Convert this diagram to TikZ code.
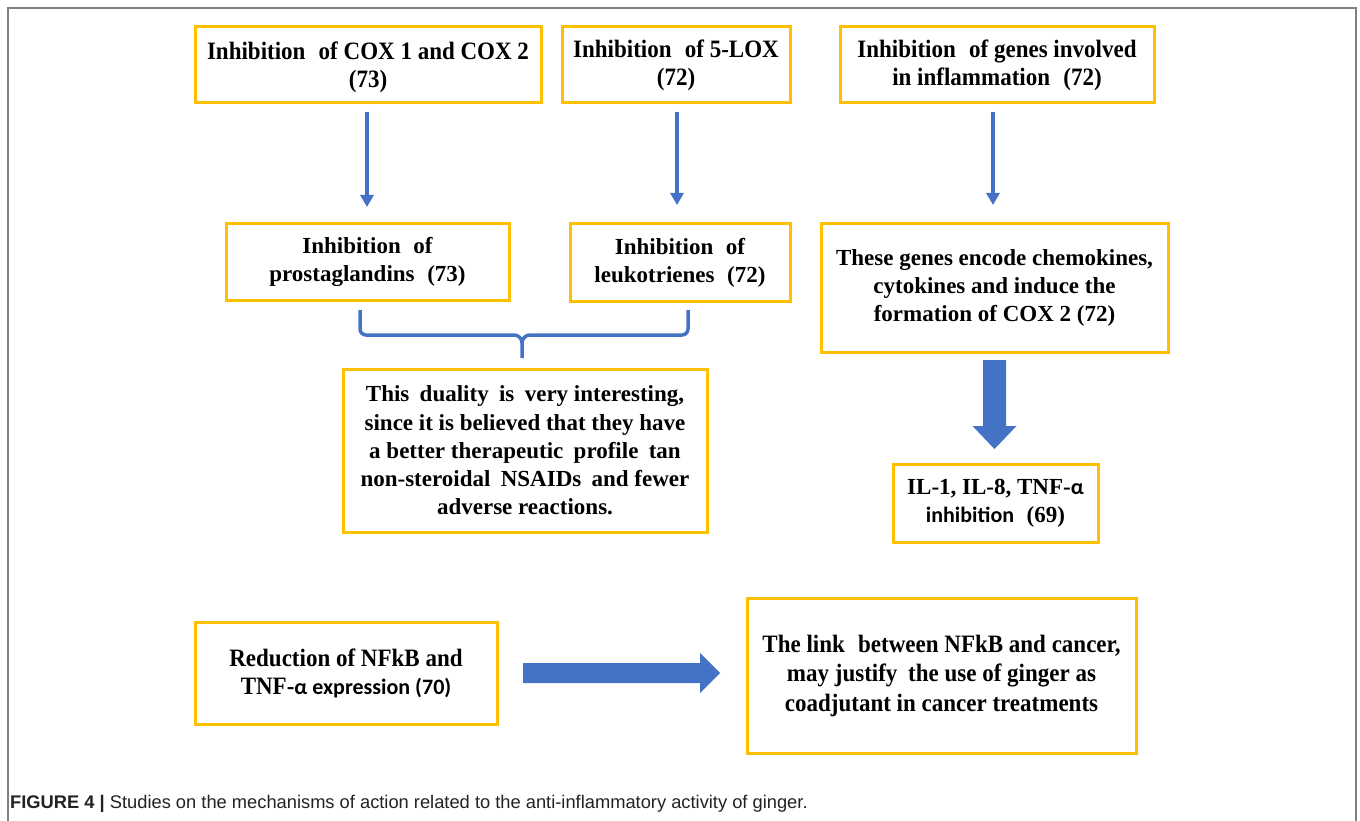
\documentclass[tikz,border=0pt]{standalone}
\usepackage{fontspec}
\setmainfont{Liberation Serif}
\newfontfamily\condfont[FakeStretch=0.92]{Liberation Serif}
\newfontfamily\calfont{Carlito}
\newfontfamily\capfont{Liberation Sans}
\usetikzlibrary{arrows.meta,calc}
\definecolor{boxc}{HTML}{FFC000}
\definecolor{arrc}{HTML}{4472C4}
\definecolor{framec}{HTML}{808080}
\definecolor{capc}{HTML}{222222}
\tikzset{
  box/.style={draw=boxc, line width=3pt, align=center, inner sep=0pt, outer sep=0pt, text=black},
  condtext/.style={font=\condfont\bfseries\fontsize{25}{28}\selectfont},
  plaintext/.style={font=\bfseries\fontsize{23}{28}\selectfont},
  thinarrow/.style={draw=arrc, line width=4pt, -{Triangle[width=13pt,length=12pt]}},
  bigarrow/.style={fill=arrc},
  bracec/.style={draw=arrc, line width=3.5pt, line join=round},
  framel/.style={draw=framec, line width=2pt}
}
\newcommand{\calb}[1]{{\calfont\bfseries\fontsize{22}{28}\selectfont #1}}
\begin{document}
\begin{tikzpicture}[x=1pt,y=-1pt]
\useasboundingbox (0,0) rectangle (1360,821);
\draw[framel] (8,830) -- (8,8) -- (1356,8) -- (1356,830);

% top row
\node[box, condtext, minimum width=346, minimum height=76, text depth=0pt] (b1) at (368,65)
  {\rule{0pt}{3pt}Inhibition\hspace{0.3em} of COX 1 and COX 2\\(73)};
\node[box, condtext, minimum width=228, minimum height=76] (b2) at (676,65)
  {\rule{0pt}{3pt}Inhibition\hspace{0.3em} of 5-LOX\\(72)};
\node[box, condtext, minimum width=314, minimum height=76] (b3) at (997,65)
  {\rule{0pt}{3pt}Inhibition\hspace{0.3em} of genes involved\\in inflammation\hspace{0.3em} (72)};

% second row
\node[box, plaintext, minimum width=283, minimum height=76] (b4) at (367.5,262)
  {Inhibition\hspace{0.3em} of\\prostaglandins\hspace{0.3em} (73)};
\node[box, plaintext, minimum width=220, minimum height=77] (b5) at (680,262.5)
  {Inhibition\hspace{0.3em} of\\leukotrienes\hspace{0.3em} (72)};
\node[box, plaintext, minimum width=347, minimum height=128] (b6) at (994.5,288)
  {These genes encode chemokines,\\cytokines and induce the\\formation of COX 2 (72)};

% third row
\node[box, plaintext, minimum width=364, minimum height=163, font=\bfseries\fontsize{23}{28.3}\selectfont] (b7) at (525,450.5)
  {This\hspace{0.2em} duality\hspace{0.2em} is\hspace{0.2em} very interesting,\\since it is believed that they have\\a better therapeutic\hspace{0.2em} profile\hspace{0.2em} tan\\non-steroidal\hspace{0.2em} NSAIDs\hspace{0.2em} and fewer\\adverse reactions.};
\node[box, plaintext, minimum width=205, minimum height=78] (bIL) at (995.5,503)
  {IL-1, IL-8, TNF-\calb{α}\\\calb{inhibition}\hspace{0.3em} (69)};

% bottom row
\node[box, condtext, minimum width=302, minimum height=102] (b8) at (346,673)
  {Reduction of NFkB and\\TNF-\calb{α expression (70)}};
\node[box, condtext, minimum width=389, minimum height=155, font=\condfont\bfseries\fontsize{25}{29.5}\selectfont] (b9) at (941.5,675.5)
  {\rule{0pt}{3pt}The link\hspace{0.3em} between NFkB and cancer,\\may justify\hspace{0.2em} the use of ginger as\\coadjutant in cancer treatments};

% thin arrows
\draw[thinarrow, shorten <=9pt, shorten >=17pt] (b1.south -| 367,0) -- (b4.north -| 367,0);
\draw[thinarrow, shorten <=9pt, shorten >=19pt] (b2.south -| 677,0) -- (b5.north -| 677,0);
\draw[thinarrow, shorten <=9pt, shorten >=19pt] (b3.south -| 993,0) -- (b6.north -| 993,0);

% brace
\coordinate (brL) at (360,310);
\coordinate (brR) at (688,310);
\coordinate (brT) at (522,358);
\draw[bracec] (brL) -- (360,329) to[out=-90,in=180] (366,335) -- (514,335) to[out=0,in=90] (brT |- 0,343) -- (brT);
\draw[bracec] (brR) -- (688,329) to[out=-90,in=0] (682,335) -- (530,335) to[out=180,in=90] (brT |- 0,343);

% big down arrow
\fill[bigarrow] ($(b6.south)+(-11.5,8)$) -- ($(b6.south)+(11.5,8)$) -- ($(b6.south)+(11.5,74)$)
  -- ($(b6.south)+(22,74)$) -- ($(bIL.north)+(-1,-15)$) -- ($(b6.south)+(-22,74)$)
  -- ($(b6.south)+(-11.5,74)$) -- cycle;

% horizontal arrow
\fill[bigarrow] ($(b8.east)+(26,-10)$) -- ($(b8.east)+(203,-10)$) -- ($(b8.east)+(203,-20)$)
  -- ($(b9.west |- b8.east)+(-27,0)$) -- ($(b8.east)+(203,20)$) -- ($(b8.east)+(203,10)$)
  -- ($(b8.east)+(26,10)$) -- cycle;

% caption
\node[anchor=base west, inner sep=0pt, text=capc, font=\capfont\fontsize{18.3}{22}\selectfont] (cap) at (10,808)
  {\textbf{FIGURE 4 |} Studies on the mechanisms of action related to the anti-inflammatory activity of ginger.};
\end{tikzpicture}
\end{document}
